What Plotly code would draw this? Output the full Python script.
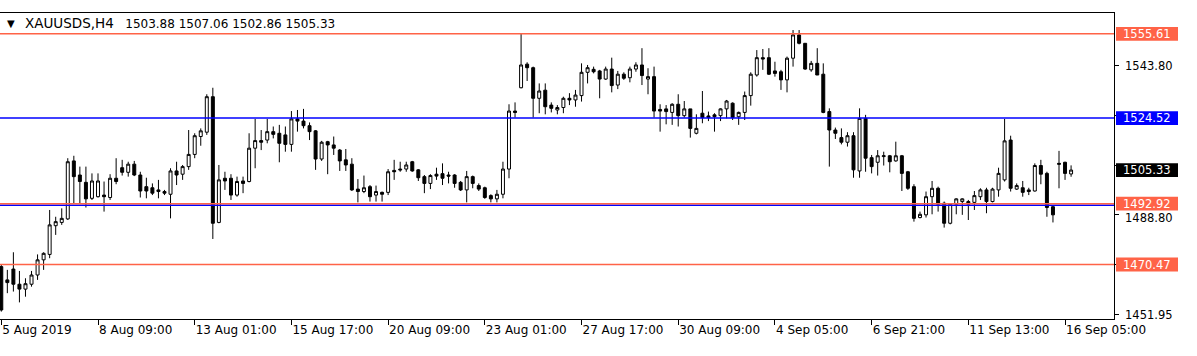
import plotly.graph_objects as go

# ---------------- data ----------------
bar_index = list(range(178))

open_ = [
    1469.7, 1464.8, 1468.8, 1463.2, 1461.4, 1463.2, 1466.6, 1472.2, 1474.2, 1484.8,
    1486.0, 1487.3, 1508.7, 1503.5, 1500.8, 1494.9, 1495.5, 1496.1, 1495.2, 1502.3,
    1506.2, 1504.5, 1507.5, 1503.5, 1499.2, 1498.8, 1498.0, 1497.4, 1496.4, 1505.0,
    1503.8, 1506.6, 1511.1, 1517.7, 1519.3, 1532.4, 1486.0, 1502.3, 1502.3, 1496.1,
    1501.3, 1501.1, 1513.4, 1516.2, 1516.4, 1519.5, 1518.9, 1518.3, 1514.8, 1524.2,
    1523.4, 1521.7, 1519.8, 1509.4, 1515.8, 1514.6, 1512.7, 1509.1, 1507.5, 1498.3,
    1497.4, 1499.2, 1496.1, 1497.1, 1497.1, 1505.2, 1505.7, 1505.7, 1508.4, 1505.4,
    1502.9, 1500.4, 1503.8, 1504.0, 1503.5, 1503.5, 1500.8, 1498.0, 1502.9, 1499.6,
    1498.8, 1495.9, 1494.7, 1496.4, 1505.7, 1527.1, 1535.7, 1544.4, 1543.1, 1531.8,
    1534.8, 1529.3, 1527.5, 1528.4, 1531.8, 1531.2, 1532.8, 1541.4, 1542.5, 1541.9,
    1538.9, 1542.6, 1536.7, 1540.7, 1539.4, 1542.6, 1544.1, 1538.9, 1539.8, 1527.7,
    1527.9, 1526.6, 1529.6, 1525.4, 1527.9, 1518.9, 1526.3, 1525.3, 1525.7, 1525.4,
    1527.9, 1530.0, 1525.0, 1526.6, 1532.8, 1540.4, 1546.8, 1546.8, 1541.9, 1541.6,
    1538.6, 1546.6, 1555.2, 1552.1, 1542.3, 1544.7, 1540.7, 1526.9, 1520.1, 1517.3,
    1515.6, 1518.0, 1505.0, 1524.4, 1509.9, 1508.2, 1510.3, 1510.6, 1508.7, 1510.6,
    1504.7, 1499.2, 1487.8, 1488.8, 1495.5, 1498.6, 1493.1, 1485.7, 1492.7, 1493.7,
    1493.7, 1493.4, 1495.5, 1498.0, 1493.7, 1498.0, 1501.7, 1516.4, 1498.3, 1498.8,
    1498.0, 1497.6, 1507.0, 1504.1, 1491.8, 1507.8, 1508.2, 1503.88,
]

high = [
    1470.3, 1468.5, 1475.0, 1468.1, 1465.4, 1468.1, 1474.2, 1475.0, 1490.6, 1488.1,
    1491.2, 1509.7, 1510.6, 1506.6, 1506.6, 1504.1, 1504.1, 1501.1, 1503.8, 1509.7,
    1509.1, 1508.4, 1508.7, 1504.7, 1502.5, 1500.4, 1501.7, 1498.0, 1506.0, 1508.4,
    1507.2, 1520.1, 1518.9, 1520.7, 1533.3, 1535.7, 1507.2, 1504.7, 1503.8, 1502.9,
    1502.9, 1518.9, 1524.2, 1520.1, 1524.2, 1521.4, 1522.0, 1521.4, 1527.1, 1527.5,
    1527.9, 1522.9, 1520.1, 1516.1, 1516.1, 1517.7, 1513.1, 1513.1, 1509.7, 1502.0,
    1503.3, 1499.8, 1499.6, 1497.4, 1505.7, 1509.1, 1508.4, 1508.4, 1508.7, 1505.7,
    1503.5, 1503.8, 1506.2, 1507.8, 1504.7, 1503.8, 1501.3, 1505.0, 1503.3, 1500.4,
    1499.2, 1496.4, 1498.0, 1508.4, 1529.6, 1530.3, 1555.6, 1545.1, 1543.5, 1537.3,
    1537.3, 1530.3, 1529.3, 1532.4, 1533.7, 1534.9, 1544.7, 1544.1, 1543.5, 1542.3,
    1543.5, 1546.8, 1541.9, 1541.4, 1543.5, 1545.1, 1550.3, 1542.9, 1543.5, 1529.6,
    1529.3, 1530.0, 1533.3, 1530.8, 1527.9, 1525.9, 1534.5, 1526.9, 1526.3, 1528.1,
    1531.2, 1530.3, 1526.9, 1534.3, 1541.4, 1549.6, 1550.0, 1550.3, 1545.3, 1542.3,
    1547.2, 1557.0, 1557.0, 1552.1, 1545.6, 1550.3, 1544.7, 1528.1, 1521.0, 1520.7,
    1519.3, 1519.3, 1528.1, 1525.7, 1510.9, 1512.7, 1512.1, 1510.9, 1515.8, 1510.9,
    1505.0, 1500.1, 1490.0, 1497.4, 1501.3, 1499.2, 1493.7, 1493.1, 1494.9, 1494.9,
    1494.3, 1497.6, 1498.6, 1498.8, 1498.8, 1506.2, 1524.2, 1518.0, 1500.4, 1501.3,
    1498.8, 1507.8, 1509.1, 1504.7, 1492.2, 1512.4, 1508.4, 1507.06,
]

low = [
    1453.1, 1459.9, 1460.5, 1456.5, 1458.6, 1462.3, 1464.8, 1468.5, 1472.8, 1481.4,
    1485.1, 1486.9, 1493.1, 1493.1, 1491.5, 1494.3, 1495.2, 1490.0, 1494.3, 1500.1,
    1503.3, 1502.9, 1503.1, 1495.2, 1494.9, 1496.1, 1494.9, 1496.1, 1487.5, 1499.8,
    1501.7, 1505.4, 1509.7, 1514.3, 1518.3, 1479.9, 1485.7, 1498.0, 1494.3, 1495.5,
    1496.8, 1500.8, 1506.0, 1512.7, 1515.2, 1517.0, 1508.2, 1512.1, 1512.1, 1519.5,
    1520.7, 1516.4, 1505.4, 1508.7, 1503.8, 1510.9, 1505.0, 1505.0, 1497.6, 1493.4,
    1496.8, 1493.7, 1493.7, 1493.7, 1496.1, 1501.7, 1504.7, 1504.7, 1504.7, 1501.3,
    1496.8, 1498.3, 1501.7, 1499.8, 1500.4, 1498.8, 1497.6, 1493.4, 1498.6, 1497.6,
    1494.7, 1493.4, 1493.4, 1494.9, 1502.3, 1524.7, 1535.5, 1538.2, 1524.7, 1526.3,
    1525.9, 1526.6, 1525.9, 1526.3, 1529.3, 1528.7, 1530.6, 1537.3, 1541.0, 1531.8,
    1538.6, 1534.0, 1535.2, 1538.6, 1537.7, 1541.6, 1536.7, 1533.3, 1524.7, 1519.5,
    1522.2, 1522.0, 1521.4, 1524.7, 1517.3, 1518.5, 1522.6, 1523.4, 1519.5, 1523.4,
    1524.4, 1523.8, 1522.0, 1523.8, 1529.1, 1539.8, 1542.3, 1540.4, 1539.8, 1534.9,
    1534.0, 1543.5, 1551.7, 1542.3, 1541.6, 1540.4, 1526.3, 1506.6, 1516.8, 1514.8,
    1514.0, 1502.5, 1502.5, 1504.7, 1504.1, 1503.3, 1507.0, 1504.5, 1508.4, 1497.6,
    1498.0, 1486.3, 1487.5, 1487.8, 1489.0, 1490.0, 1484.1, 1485.3, 1489.0, 1488.8,
    1486.9, 1490.6, 1494.3, 1489.4, 1493.4, 1495.5, 1501.1, 1497.4, 1498.0, 1495.5,
    1496.1, 1497.4, 1500.1, 1488.1, 1486.0, 1498.6, 1501.7, 1502.86,
]

close = [
    1453.7, 1463.8, 1463.2, 1461.4, 1463.4, 1466.6, 1472.2, 1474.6, 1485.1, 1486.3,
    1487.5, 1508.4, 1502.9, 1501.1, 1494.7, 1501.3, 1501.3, 1495.5, 1502.3, 1501.1,
    1504.5, 1507.5, 1503.5, 1497.6, 1497.6, 1496.8, 1497.4, 1496.8, 1505.0, 1503.5,
    1506.6, 1511.1, 1518.0, 1519.8, 1532.4, 1485.7, 1501.7, 1501.3, 1496.1, 1501.1,
    1500.4, 1513.4, 1516.2, 1515.6, 1519.5, 1518.5, 1515.2, 1514.8, 1524.2, 1523.4,
    1521.7, 1519.5, 1509.4, 1515.6, 1514.6, 1513.4, 1508.7, 1507.2, 1498.0, 1497.4,
    1498.8, 1495.5, 1497.4, 1496.4, 1504.7, 1504.7, 1505.4, 1507.2, 1505.0, 1502.5,
    1500.4, 1503.3, 1503.1, 1502.3, 1503.1, 1500.4, 1498.0, 1502.9, 1500.4, 1498.3,
    1495.2, 1494.7, 1496.4, 1505.7, 1527.1, 1526.6, 1544.1, 1543.1, 1531.8, 1534.5,
    1528.7, 1528.1, 1528.4, 1531.8, 1531.2, 1533.0, 1541.4, 1543.1, 1541.6, 1538.9,
    1542.6, 1536.5, 1540.7, 1539.2, 1542.6, 1544.1, 1540.2, 1539.8, 1527.1, 1527.1,
    1526.9, 1529.6, 1525.4, 1527.9, 1520.7, 1520.7, 1524.7, 1524.7, 1525.0, 1527.9,
    1530.8, 1524.7, 1526.6, 1532.8, 1540.7, 1546.8, 1546.3, 1540.7, 1541.0, 1538.6,
    1546.6, 1555.2, 1552.1, 1542.6, 1544.7, 1540.4, 1526.6, 1520.1, 1518.9, 1515.6,
    1518.0, 1505.4, 1524.4, 1509.7, 1506.6, 1510.6, 1510.6, 1508.4, 1510.6, 1504.1,
    1498.6, 1487.5, 1489.0, 1495.5, 1498.6, 1492.7, 1485.7, 1492.7, 1494.7, 1494.7,
    1492.7, 1495.9, 1498.0, 1493.7, 1498.3, 1504.1, 1516.1, 1498.6, 1499.6, 1497.1,
    1497.4, 1507.0, 1503.8, 1491.5, 1488.8, 1507.5, 1504.1, 1505.33,
]

# time axis labels (every 16 H4 bars)
time_tick_index = [0, 16, 32, 48, 64, 80, 96, 112, 128, 144, 160, 176]
time_tick_labels = ["5 Aug 2019", "8 Aug 09:00", "13 Aug 01:00", "15 Aug 17:00",
                    "20 Aug 09:00", "23 Aug 01:00", "27 Aug 17:00", "30 Aug 09:00",
                    "4 Sep 05:00", "6 Sep 21:00", "11 Sep 13:00", "16 Sep 05:00"]

# price axis ticks
price_tick_values = [1543.80, 1525.47, 1507.13, 1488.80, 1470.47, 1451.95]
price_tick_labels = ["1543.80", "", "", "1488.80", "", "1451.95"]

# horizontal levels
level_prices = [1555.61, 1524.52, 1492.35, 1492.92, 1470.47]
level_colors = ["#FF6347", "#0000FF", "#0000FF", "#FF6347", "#FF6347"]

# price tags on the right scale
tag_prices = [1555.61, 1524.52, 1505.33, 1492.92, 1470.47]
tag_texts = ["1555.61", "1524.52", "1505.33", "1492.92", "1470.47"]
tag_colors = ["#FF6347", "#0000FF", "#000000", "#FF6347", "#FF6347"]

symbol_text = "XAUUSDS,H4"
last_ohlc = [1503.88, 1507.06, 1502.86, 1505.33]

# ---------------- figure ----------------
FONT = "DejaVu Sans"
W, H = 1197, 356
ML, MR, MT, MB = 0, 83, 13, 37
plot_w = W - ML - MR
plot_h = H - MT - MB

fig = go.Figure()
fig.add_trace(go.Candlestick(
    x=bar_index, open=open_, high=high, low=low, close=close,
    increasing=dict(fillcolor="#FFFFFF", line=dict(color="#000000", width=1)),
    decreasing=dict(fillcolor="#000000", line=dict(color="#000000", width=1)),
    whiskerwidth=0, showlegend=False, hoverinfo="skip",
))

shapes = []
for p, c in zip(level_prices, level_colors):
    shapes.append(dict(type="line", xref="paper", yref="y", x0=0, x1=1, y0=p, y1=p,
                       line=dict(color=c, width=1.5), layer="above"))

annotations = []

# price-scale labels drawn as annotations (so one can be nudged clear of a tag)
label_x = (plot_w + 9) / plot_w
for p, t in zip(price_tick_values, price_tick_labels):
    if not t:
        continue
    near_tag = any(abs(p - tp) < 5 for tp in tag_prices)
    annotations.append(dict(xref="paper", yref="y", x=label_x, y=p, text=t,
                            yshift=-3 if near_tag else 0,
                            showarrow=False, xanchor="left", yanchor="middle",
                            font=dict(family=FONT, size=11.5, color="#000000")))

box_x0 = (plot_w + 2) / plot_w
box_x1 = (plot_w + 64) / plot_w
box_xc = (plot_w + 33) / plot_w
half_h = 2.55
for p, t, c in zip(tag_prices, tag_texts, tag_colors):
    shapes.append(dict(type="rect", xref="paper", yref="y", x0=box_x0, x1=box_x1,
                       y0=p - half_h, y1=p + half_h, fillcolor=c, line=dict(width=0),
                       layer="above"))
    annotations.append(dict(xref="paper", yref="y", x=box_xc, y=p, text=t,
                            showarrow=False, xanchor="center", yanchor="middle",
                            font=dict(family=FONT, size=11.5, color="#FFFFFF")))

# symbol header
annotations.append(dict(xref="paper", yref="paper", x=11 / plot_w, y=(plot_h - 10) / plot_h,
                        text="\u25BC", showarrow=False, xanchor="center", yanchor="middle",
                        font=dict(family=FONT, size=10, color="#000000")))
title_text = ('<span style="font-size:13.5px">' + symbol_text + "</span>"
              + "\u00a0\u00a0\u00a0" + " ".join(f"{v:.2f}" for v in last_ohlc))
annotations.append(dict(xref="paper", yref="paper", x=23 / plot_w, y=(plot_h - 10) / plot_h,
                        text=title_text, showarrow=False, xanchor="left", yanchor="middle",
                        font=dict(family=FONT, size=12, color="#000000")))

fig.update_layout(
    width=W, height=H,
    margin=dict(l=ML, r=MR, t=MT, b=MB, pad=0),
    paper_bgcolor="#FFFFFF", plot_bgcolor="#FFFFFF",
    shapes=shapes, annotations=annotations,
    showlegend=False, hovermode=False,
    font=dict(family=FONT, size=12, color="#000000"),
)
fig.update_xaxes(
    range=[-0.215, 184.1], rangeslider=dict(visible=False),
    showgrid=False, zeroline=False,
    showline=True, linecolor="#000000", linewidth=1, mirror=True,
    tickmode="array", tickvals=time_tick_index, ticktext=time_tick_labels,
    ticks="outside", ticklen=5, tickcolor="#000000", tickwidth=1,
    ticklabelposition="outside right",
    tickfont=dict(family=FONT, size=12, color="#000000"),
)
fig.update_yaxes(
    range=[1450.37, 1563.28], side="right",
    showgrid=False, zeroline=False,
    showline=True, linecolor="#000000", linewidth=1, mirror=True,
    tickmode="array", tickvals=price_tick_values, ticktext=[""] * len(price_tick_values),
    ticks="outside", ticklen=4, tickcolor="#000000", tickwidth=1,
)

fig.write_html("out.html", config={"displayModeBar": False})
